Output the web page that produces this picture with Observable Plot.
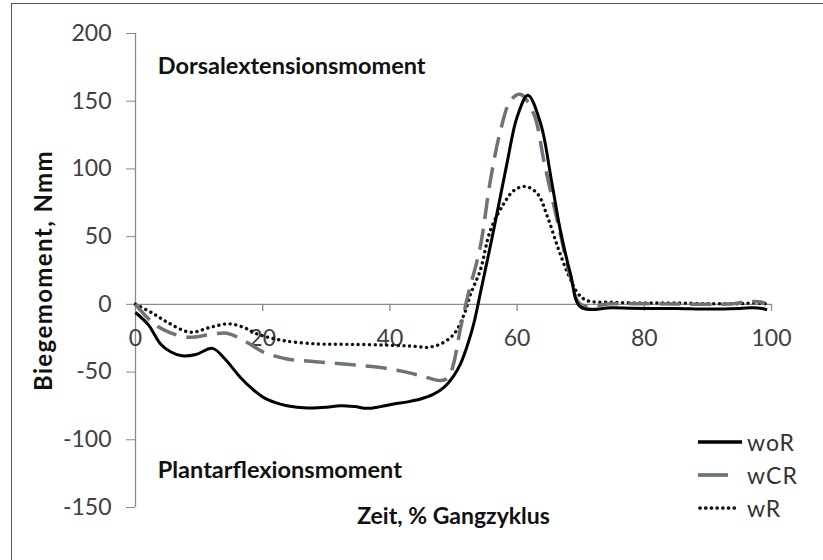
<!DOCTYPE html>
<html><head><meta charset="utf-8">
<script src="https://cdn.jsdelivr.net/npm/d3@7"></script>
<script src="https://cdn.jsdelivr.net/npm/@observablehq/plot@0.6"></script>
<style>
html,body{margin:0;padding:0;background:#fff;}
#wrap{position:relative;width:823px;height:560px;font-family:Lato,"Open Sans",sans-serif;}
#frameL{position:absolute;left:11px;top:3px;width:1px;height:557px;background:#555;}
#frameT{position:absolute;left:11px;top:3px;width:812px;height:1px;background:#555;}
#legend{position:absolute;left:698px;top:425px;font-size:23px;color:#333;letter-spacing:1px;}
.row{display:flex;align-items:center;height:33px;}
.row svg{margin-right:5px;}
</style></head>
<body><div id="wrap"><div id="frameL"></div><div id="frameT"></div><div id="chart"></div><div id="legend"></div></div>
<script>
const seriesNames = ["woR", "wCR", "wR"];
const woR_x = [0, 2, 3.9, 5.5, 7.3, 9.5, 12.1, 14, 16.5, 18.5, 20.1, 22, 23.8, 27, 30, 32.2, 34.5, 36.4, 38.5, 40.6, 42.8, 44.8, 46.8, 48.5, 50, 51.1, 52.2, 53.2, 54.2, 56.3, 58.4, 60, 61.7, 63.7, 65.4, 66.8, 68.4, 70, 75, 80, 85, 90, 95, 97, 98.5, 99.3];
const woR_y = [-6, -15, -29, -35, -38, -37, -32.5, -40, -54, -63, -68.7, -72.5, -74.8, -76.5, -76, -74.8, -75.5, -76.8, -75.5, -73.6, -72, -69.9, -66.5, -61.3, -53, -44, -30, -14, 7.7, 54.6, 103.9, 138.3, 154.4, 133.5, 91.5, 54.6, 22.5, -2, -2.5, -3, -3, -3.5, -3, -2.5, -3, -4];
const wCR_x = [0, 2.9, 5.5, 8.6, 11.5, 14.4, 17.5, 20.2, 23.8, 27.5, 31.2, 35, 39.1, 42, 44.8, 48, 49.2, 50, 51, 52.2, 54.2, 55.8, 57.4, 59, 60.5, 62.6, 64.3, 66.8, 68.4, 70, 75, 80, 85, 90, 94, 96.2, 98, 99];
const wCR_y = [0, -14.4, -21, -24.3, -22.5, -21.3, -28, -35.4, -40.3, -42, -43.5, -45, -47, -49.5, -52.6, -56.3, -54, -44, -20, 5.3, 42.2, 91.5, 128.5, 150.7, 155.1, 140.9, 103.9, 52, 20, 0, 0.5, 0.5, 0.3, 0, 0.5, 2, 2, 1];
const wR_x = [0, 2.5, 5, 8.6, 11.8, 14.7, 17, 19.1, 23.3, 28.6, 32.5, 36.4, 41.7, 44, 45.9, 48, 50.1, 51.7, 52.7, 54.2, 55.8, 57.9, 59.5, 61.3, 63.2, 64.8, 66.4, 68, 69.6, 71, 75, 80, 85, 90, 95, 97, 99];
const wR_y = [0, -6, -13.2, -20.6, -16.9, -14.4, -17, -21.8, -26.8, -29.2, -29.5, -29.7, -30.5, -31, -31.7, -29.2, -21.8, -7, 7.8, 25, 54.6, 74.3, 84.1, 87.1, 81.7, 64.4, 42.2, 22.5, 7.8, 2.8, 1.5, 1, 1, 0.5, 0.5, 1, 0.5];
const xTicks = [0, 20, 40, 60, 80, 100];
const yTicks = [-150, -100, -50, 0, 50, 100, 150, 200];
const annoText = ["Dorsalextensionsmoment", "Plantarflexionsmoment"];
const annoX = [3.5, 3.5];
const annoY = [176, -123];
const xTitle = "Zeit, % Gangzyklus";
const yTitle = "Biegemoment, Nmm";

const styles = {
  woR: {stroke: "#000", strokeWidth: 3, dash: null, cap: "butt"},
  wCR: {stroke: "#6b737b", strokeWidth: 3.5, dash: "21,10", cap: "butt"},
  wR: {stroke: "#111", strokeWidth: 3.4, dash: "0.1,5.6", cap: "round"}
};
const xs = {woR: woR_x, wCR: wCR_x, wR: wR_x};
const ys = {woR: woR_y, wCR: wCR_y, wR: wR_y};
const rows = seriesNames.flatMap(s => xs[s].map((x, i) => ({series: s, x, y: ys[s][i]})));
const anno = annoText.map((t, i) => ({t, x: annoX[i], y: annoY[i]}));

const lineMarks = ["wR", "wCR", "woR"].map(s => Plot.line(rows.filter(d => d.series === s), {
  x: "x", y: "y", curve: "catmull-rom", stroke: styles[s].stroke, strokeWidth: styles[s].strokeWidth,
  strokeDasharray: styles[s].dash, strokeLinecap: styles[s].cap
}));

const chart = Plot.plot({
  width: 823, height: 560,
  marginLeft: 135, marginRight: 52, marginTop: 33, marginBottom: 53,
  style: {fontFamily: "Lato, 'Open Sans', sans-serif", background: "transparent", overflow: "visible"},
  x: {domain: [0, 100], axis: null},
  y: {domain: [-150, 200], axis: null},
  marks: [
    Plot.ruleX([0], {stroke: "#8a8a8a", strokeWidth: 1.3}),
    Plot.ruleY([0], {stroke: "#8a8a8a", strokeWidth: 1.3}),
    Plot.ruleX(xTicks.slice(1), {x: d => d, y1: 0, y2: -5.2, stroke: "#8a8a8a", strokeWidth: 1.3}),
    Plot.axisY(yTicks, {anchor: "left", tickSize: 9, tickPadding: 15, fontSize: 23, stroke: "#8a8a8a", fill: "#404040", label: null, tickFormat: d => d}),
    Plot.text(xTicks, {x: d => d, y: 0, dy: 34, text: d => String(d), fontSize: 23, fill: "#404040", textAnchor: "middle"}),
    ...lineMarks,
    Plot.text(anno, {x: "x", y: "y", text: "t", textAnchor: "start", fontSize: 23.5, fontWeight: "bold", fill: "#111"}),
    Plot.text([xTitle], {frameAnchor: "bottom", dy: 16, fontSize: 23, fontWeight: "bold", fill: "#111"}),
    Plot.text([yTitle], {frameAnchor: "left", textAnchor: "middle", rotate: -90, dx: -91, fontSize: 24, fontWeight: "bold", fill: "#111"})
  ]
});
document.getElementById("chart").appendChild(chart);
d3.select(chart).selectAll("text").filter(function() { return this.textContent === yTitle; }).attr("letter-spacing", "1.4px");

const leg = document.getElementById("legend");
const legLen = {woR: 44, wCR: 30, wR: 39};
seriesNames.forEach(s => {
  const row = document.createElement("div");
  row.className = "row";
  const st = styles[s];
  row.innerHTML = `<svg width="44" height="10"><line x1="${s === 'wR' ? 2 : 0}" y1="5" x2="${legLen[s]}" y2="5" stroke="${st.stroke}" stroke-width="${st.strokeWidth + 0.3}" ${st.dash ? `stroke-dasharray="${s === 'wCR' ? '30,10' : st.dash}"` : ""} stroke-linecap="${st.cap}"/></svg><span>${s}</span>`;
  leg.appendChild(row);
});
</script></body></html>
